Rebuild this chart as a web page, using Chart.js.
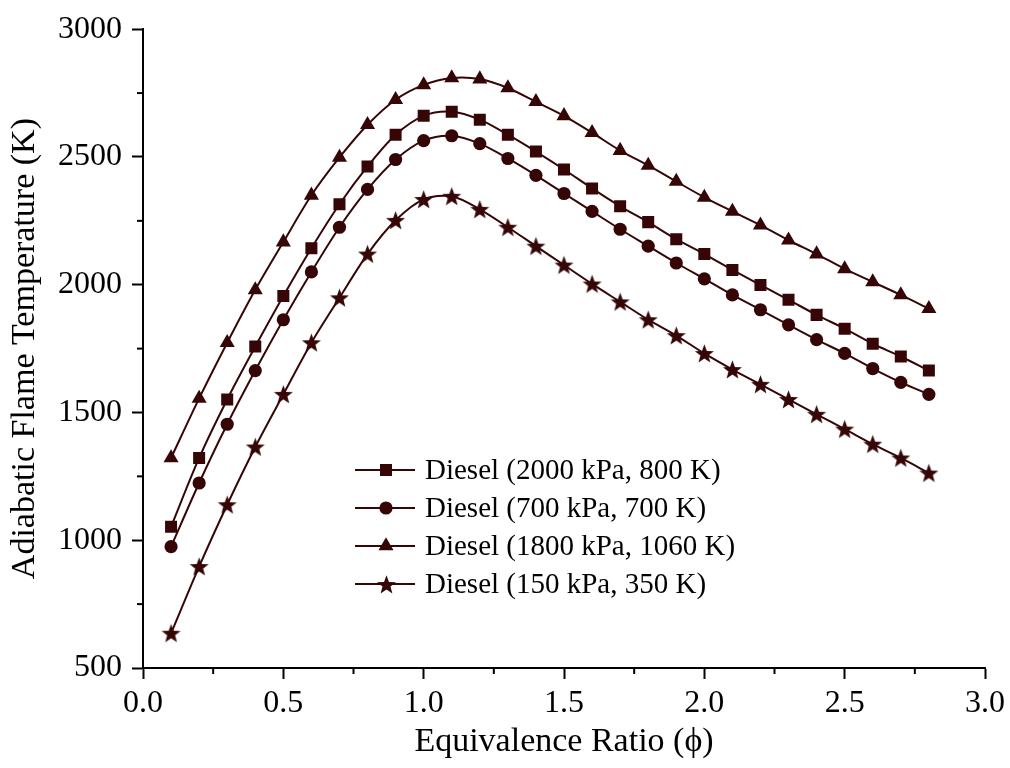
<!DOCTYPE html>
<html>
<head>
<meta charset="utf-8">
<script src="https://cdn.jsdelivr.net/npm/chart.js@4.4.1/dist/chart.umd.min.js"></script>
<style>
html,body{margin:0;padding:0;background:#fff;}
canvas{display:block;}
</style>
</head>
<body>
<canvas id="c" width="1010" height="768"></canvas>
<script>
const phi = [0.1,0.2,0.3,0.4,0.5,0.6,0.7,0.8,0.9,1.0,1.1,1.2,1.3,1.4,1.5,1.6,1.7,1.8,1.9,2.0,2.1,2.2,2.3,2.4,2.5,2.6,2.7,2.8];
const diesel2000_800 = [1053,1322,1551,1758,1956,2143,2315,2463,2587,2661,2677,2646,2587,2521,2451,2377,2307,2245,2178,2120,2058,1999,1941,1882,1828,1769,1719,1664];
const diesel700_700 = [975,1224,1454,1664,1863,2050,2225,2373,2490,2564,2583,2552,2494,2428,2357,2287,2217,2151,2085,2023,1960,1902,1843,1785,1731,1672,1618,1571];
const diesel1800_1060 = [1322,1555,1773,1980,2167,2350,2498,2626,2724,2782,2809,2805,2770,2716,2661,2595,2525,2467,2404,2342,2287,2233,2174,2120,2062,2011,1960,1906];
const diesel150_350 = [636,897,1139,1365,1571,1773,1949,2120,2252,2334,2346,2295,2225,2151,2077,2003,1933,1863,1801,1731,1668,1610,1551,1493,1435,1376,1322,1263];
const seriesLabels = ['Diesel (2000 kPa, 800 K)','Diesel (700 kPa, 700 K)','Diesel (1800 kPa, 1060 K)','Diesel (150 kPa, 350 K)'];
const xTicks = [0,0.5,1.0,1.5,2.0,2.5,3.0];
const yTicks = [500,1000,1500,2000,2500,3000];

const COLOR = '#360606';
const SERIF = '"Liberation Serif","Times New Roman",serif';

function makeStar(size, color){
  const cv = document.createElement('canvas');
  cv.width = size; cv.height = size;
  const g = cv.getContext('2d');
  const cx = size/2, cy = size/2 + 0.8, R = size/2 - 0.5, r = R*0.42;
  g.beginPath();
  for(let i=0;i<10;i++){
    const ang = -Math.PI/2 + i*Math.PI/5;
    const rad = (i%2===0)?R:r;
    const px = cx + rad*Math.cos(ang), py = cy + rad*Math.sin(ang);
    if(i===0) g.moveTo(px,py); else g.lineTo(px,py);
  }
  g.closePath();
  g.fillStyle = color; g.fill();
  return cv;
}
const starImg = makeStar(21, COLOR);

const styles = [
  {pointStyle:'rect', radius:8.5},
  {pointStyle:'circle', radius:6.6},
  {pointStyle:'triangle', radius:8.7},
  {pointStyle:starImg, radius:10}
];
const values = [diesel2000_800, diesel700_700, diesel1800_1060, diesel150_350];

const datasets = values.map((arr,i)=>({
  label: seriesLabels[i],
  data: phi.map((p,k)=>({x:p, y:arr[k]})),
  borderColor: COLOR,
  backgroundColor: COLOR,
  borderWidth: 2,
  pointStyle: styles[i].pointStyle,
  pointRadius: styles[i].radius,
  pointHoverRadius: styles[i].radius,
  pointBorderWidth: 0,
  pointBackgroundColor: COLOR,
  tension: 0.3,
  fill: false
}));

const extras = {
  id:'extras',
  afterDraw(chart){
    const ctx = chart.ctx;
    const xs = chart.scales.x, ys = chart.scales.y;
    ctx.save();
    ctx.strokeStyle = '#000';
    ctx.lineWidth = 2;
    // minor ticks
    for(let v=0.25; v<3; v+=0.5){
      const px = xs.getPixelForValue(v);
      ctx.beginPath(); ctx.moveTo(px, ys.bottom); ctx.lineTo(px, ys.bottom+6); ctx.stroke();
    }
    for(let v=750; v<3000; v+=500){
      const py = ys.getPixelForValue(v);
      ctx.beginPath(); ctx.moveTo(xs.left, py); ctx.lineTo(xs.left-6, py); ctx.stroke();
    }
    // legend
    const x0 = 355, x1 = 415, xm = 386, xt = 425;
    const rowY = [470, 508, 546, 584];
    chart.data.datasets.forEach((ds,i)=>{
      const y = rowY[i];
      ctx.strokeStyle = ds.borderColor;
      ctx.lineWidth = 2;
      ctx.beginPath(); ctx.moveTo(x0,y); ctx.lineTo(x1,y); ctx.stroke();
      ctx.fillStyle = ds.backgroundColor;
      ctx.strokeStyle = ds.borderColor;
      const st = ds.pointStyle;
      if (st instanceof HTMLCanvasElement){
        ctx.drawImage(st, Math.round(xm - st.width/2), Math.round(y - st.height/2));
      } else if (Chart.helpers && Chart.helpers.drawPoint){
        Chart.helpers.drawPoint(ctx, {pointStyle:st, radius:ds.pointRadius, rotation:0, borderWidth:0}, xm, y);
      }
      ctx.fillStyle = '#000';
      ctx.font = '29px ' + SERIF;
      ctx.textAlign = 'left';
      ctx.textBaseline = 'middle';
      ctx.fillText(ds.label, xt, y+1);
    });
    ctx.restore();
  }
};

new Chart(document.getElementById('c'), {
  type:'line',
  data:{datasets},
  options:{
    responsive:false,
    animation:false,
    events:[],
    layout:{padding:{left:0, top:26, right:23, bottom:0}},
    plugins:{legend:{display:false}, tooltip:{enabled:false}},
    scales:{
      x:{
        type:'linear', min:0, max:3,
        afterBuildTicks(s){ s.ticks = xTicks.map(v=>({value:v})); },
        afterFit(s){ s.height = 100; },
        ticks:{ color:'#000', font:{family:SERIF, size:32}, padding:5,
          callback:(v)=>Number(v).toFixed(1), maxRotation:0, autoSkip:false },
        grid:{ drawOnChartArea:false, drawTicks:true, tickLength:11, tickWidth:2, tickColor:'#000' },
        border:{ display:true, color:'#000', width:2 },
        title:{ display:true, text:'Equivalence Ratio (\u03D5)', color:'#000',
          font:{family:SERIF, size:34}, padding:{top:0, bottom:6} }
      },
      y:{
        type:'linear', min:500, max:3000,
        afterBuildTicks(s){ s.ticks = yTicks.map(v=>({value:v})); },
        afterFit(s){ s.width = 143; },
        ticks:{ color:'#000', font:{family:SERIF, size:32}, padding:10, autoSkip:false,
          callback:(v)=>String(v) },
        grid:{ drawOnChartArea:false, drawTicks:true, tickLength:11, tickWidth:2, tickColor:'#000' },
        border:{ display:true, color:'#000', width:2 },
        title:{ display:true, text:'Adiabatic Flame Temperature (K)', color:'#000',
          font:{family:SERIF, size:34}, padding:{top:5, bottom:0} }
      }
    }
  },
  plugins:[extras]
});
</script>
</body>
</html>
